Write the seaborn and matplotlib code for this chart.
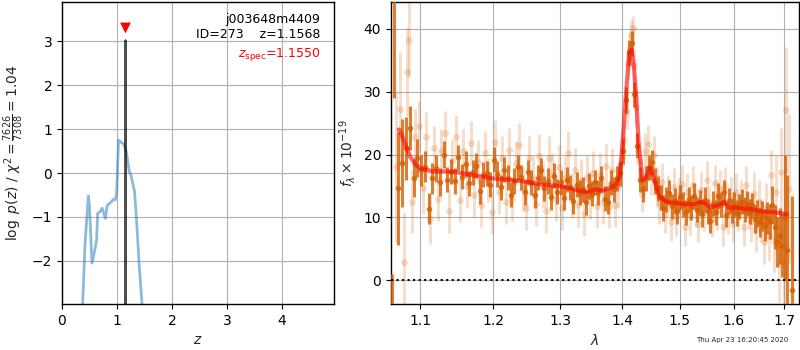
import numpy as np
import pandas as pd
import matplotlib
matplotlib.use("Agg")
import matplotlib.pyplot as plt
from matplotlib.ticker import FixedLocator, FixedFormatter, NullLocator
import seaborn as sns

# ---------------- data ----------------
# redshift probability (log p(z)) curve
z_grid = [0.30, 0.376, 0.42, 0.479, 0.50, 0.545, 0.59, 0.63, 0.648, 0.69, 0.733, 0.76, 0.788,
          0.824, 0.86, 0.903, 0.933, 0.970, 0.994, 1.03, 1.06, 1.085, 1.12, 1.164, 1.20,
          1.224, 1.25, 1.29, 1.32, 1.357, 1.406, 1.455, 1.50]
log_pz = [-5.0, -2.96, -1.6, -0.52, -0.75, -2.05, -1.80, -1.52, -0.92, -0.88, -0.80, -0.92, -1.03,
          -0.73, -0.70, -0.65, -0.60, -0.61, -0.45, 0.75, 0.72, 0.69, 0.66, 0.52, 0.25,
          0.03, -0.03, -0.25, -0.42, -1.07, -2.13, -2.96, -5.0]
# fine p(z) spike around best redshift
z_fine = [1.1555, 1.1568, 1.1581]
log_pz_fine = [-8.0, 3.02, -8.0]
z_best = 1.1568
z_spec = 1.1550
z_spec_mark = 3.30

# spectrum: binned (dark) points
lam_dark = [1.063, 1.066, 1.071, 1.076, 1.081, 1.086, 1.091, 1.096, 1.101, 1.106, 1.111, 1.116,
            1.121, 1.126, 1.131, 1.136, 1.141, 1.146, 1.151, 1.156, 1.161, 1.166, 1.171, 1.176,
            1.181, 1.186, 1.191, 1.196, 1.201, 1.206, 1.211, 1.216, 1.221, 1.226, 1.231, 1.236,
            1.241, 1.246, 1.251, 1.256, 1.261, 1.266, 1.271, 1.276, 1.281, 1.286, 1.291, 1.296,
            1.301, 1.306, 1.311, 1.316, 1.321, 1.326, 1.331, 1.336, 1.341, 1.346, 1.351, 1.356,
            1.361, 1.366, 1.371, 1.376, 1.381, 1.386, 1.391, 1.396, 1.401, 1.406, 1.411, 1.416,
            1.421, 1.426, 1.431, 1.436, 1.441, 1.446, 1.451, 1.456, 1.461, 1.466, 1.471, 1.476,
            1.481, 1.486, 1.491, 1.496, 1.501, 1.506, 1.511, 1.516, 1.521, 1.526, 1.531, 1.536,
            1.541, 1.546, 1.551, 1.556, 1.561, 1.566, 1.571, 1.576, 1.581, 1.586, 1.591, 1.596,
            1.601, 1.606, 1.611, 1.616, 1.621, 1.626, 1.631, 1.636, 1.641, 1.646, 1.651, 1.656,
            1.661, 1.666, 1.671, 1.676, 1.681, 1.686, 1.691, 1.696, 1.701, 1.706, 1.715]
flux_dark = [-6.0, 45.0, 14.6, 18.7, 21.0, 24.2, 16.3, 19.5, 17.5, 18.1, 11.4, 16.2,
             17.8, 15.6, 20.0, 16.0, 17.3, 15.8, 19.6, 16.5, 18.5, 15.4, 17.2, 18.2,
             14.2, 16.8, 17.0, 15.2, 19.2, 16.9, 14.8, 17.6, 16.3, 13.6, 15.8, 18.0,
             16.4, 14.0, 17.2, 15.5, 13.5, 16.3, 17.5, 14.6, 15.8, 13.2, 16.6, 14.1,
             15.6, 13.1, 16.0, 14.8, 12.6, 15.2, 13.9, 14.5, 12.4, 15.0, 13.8, 15.6,
             14.0, 16.2, 13.0, 12.5, 15.5, 14.5, 16.2, 17.0, 20.5, 28.7, 36.3, 37.7,
             29.6, 21.4, 16.0, 14.5, 16.2, 18.0, 18.8, 15.8, 14.6, 13.2, 11.5, 12.8,
             13.9, 11.8, 12.6, 11.0, 13.2, 12.0, 10.8, 12.9, 11.6, 13.4, 11.2, 12.4,
             10.5, 12.8, 11.0, 9.5, 12.2, 10.8, 13.4, 12.0, 14.0, 10.4, 12.6, 11.1,
             12.0, 10.7, 11.8, 12.5, 11.2, 12.2, 10.9, 11.9, 9.7, 10.6, 9.2, 10.2,
             8.8, 9.9, 9.4, 12.0, 8.4, 6.1, 7.0, 5.5, 10.0, 4.8, -1.6]
err_dark = [7.0, 16.0, 9.0, 7.0, 5.0, 3.5, 3.0, 3.0, 2.5, 2.5, 2.5, 2.5,
            2.2, 2.2, 2.2, 2.0, 2.0, 2.0, 2.0, 2.0, 2.0, 2.0, 2.0, 2.0,
            2.0, 2.0, 2.0, 2.0, 2.0, 2.0, 2.0, 2.0, 2.0, 2.0, 2.0, 2.0,
            2.0, 2.0, 2.0, 2.0, 2.0, 2.0, 2.0, 2.0, 2.0, 2.0, 2.0, 2.0,
            2.0, 2.0, 2.0, 2.0, 2.0, 2.0, 2.0, 2.0, 2.0, 2.0, 2.0, 2.0,
            2.0, 2.0, 2.0, 2.0, 2.0, 2.0, 2.0, 2.0, 2.0, 2.0, 2.0, 2.0,
            2.0, 2.0, 2.0, 2.0, 2.0, 2.0, 2.0, 2.0, 2.0, 2.0, 2.0, 2.0,
            2.0, 2.0, 2.0, 2.0, 2.0, 2.0, 2.0, 2.0, 2.0, 2.0, 2.0, 2.0,
            2.0, 2.0, 2.0, 2.0, 2.0, 2.0, 2.0, 2.0, 2.0, 2.0, 2.0, 2.0,
            2.0, 2.0, 2.0, 2.0, 2.0, 2.0, 2.0, 2.0, 2.2, 2.2, 2.4, 2.4,
            2.6, 2.6, 2.8, 3.0, 3.5, 4.0, 4.5, 5.0, 10.0, 12.0, 15.0]

# spectrum: unbinned (light) points
lam_light = [1.068, 1.073, 1.078, 1.082, 1.085, 1.089, 1.093, 1.098, 1.103, 1.108, 1.113, 1.118,
             1.123, 1.128, 1.133, 1.138, 1.143, 1.148, 1.153, 1.158, 1.163, 1.168, 1.173, 1.178,
             1.183, 1.188, 1.193, 1.198, 1.203, 1.208, 1.213, 1.218, 1.223, 1.228, 1.233, 1.238,
             1.243, 1.248, 1.253, 1.258, 1.263, 1.268, 1.273, 1.278, 1.283, 1.288, 1.293, 1.298,
             1.303, 1.308, 1.313, 1.318, 1.323, 1.328, 1.333, 1.338, 1.343, 1.348, 1.353, 1.358,
             1.363, 1.368, 1.373, 1.378, 1.383, 1.388, 1.393, 1.398, 1.403, 1.408, 1.410, 1.413,
             1.415, 1.418, 1.421, 1.424, 1.429, 1.434, 1.439, 1.444, 1.449, 1.454, 1.459, 1.464,
             1.469, 1.474, 1.479, 1.484, 1.489, 1.494, 1.499, 1.504, 1.509, 1.514, 1.519, 1.524,
             1.529, 1.534, 1.539, 1.544, 1.549, 1.554, 1.559, 1.564, 1.569, 1.574, 1.579, 1.584,
             1.589, 1.594, 1.599, 1.604, 1.609, 1.614, 1.619, 1.624, 1.629, 1.634, 1.639, 1.644,
             1.649, 1.654, 1.659, 1.664, 1.669, 1.674, 1.679, 1.684, 1.689, 1.694, 1.699, 1.704,
             1.709]
flux_light = [18.0, 27.3, 2.9, 33.2, 38.3, 12.5, 22.8, 24.5, 14.6, 22.8, 9.7, 21.0,
              13.0, 20.5, 23.5, 11.0, 19.0, 22.8, 12.8, 20.6, 15.0, 21.8, 13.5, 18.8,
              12.0, 20.2, 16.0, 10.8, 22.0, 14.0, 19.5, 12.5, 20.8, 13.0, 18.6, 21.5,
              14.5, 11.5, 19.5, 16.2, 12.2, 19.8, 15.0, 11.0, 19.5, 16.8, 13.0, 18.0,
              11.5, 16.3, 20.2, 13.5, 17.5, 12.0, 15.8, 10.5, 16.5, 13.2, 17.0, 11.8,
              16.8, 12.5, 18.2, 11.8, 17.5, 12.0, 15.0, 18.5, 22.3, 27.0, 34.5, 37.0,
              39.0, 40.1, 34.3, 27.5, 19.0, 13.8, 20.5, 21.7, 16.5, 20.0, 15.0, 12.0,
              15.6, 10.5, 13.8, 9.2, 14.8, 10.0, 13.5, 15.3, 8.5, 14.0, 10.2, 15.2,
              11.5, 9.0, 14.3, 10.8, 16.0, 12.0, 9.8, 15.4, 11.0, 14.5, 8.5, 15.0,
              10.3, 13.5, 9.0, 14.0, 10.8, 13.0, 8.5, 15.2, 11.0, 9.5, 13.8, 8.0,
              12.5, 9.5, 6.0, 11.5, 7.0, 16.8, 6.3, 14.0, 2.5, 17.3, 3.0, 27.1,
              14.5]
err_light = [12.0, 9.0, 8.0, 7.0, 6.0, 5.0, 4.5, 4.0, 4.0, 4.0, 4.0, 3.5,
             3.5, 3.5, 3.5, 3.5, 3.5, 3.5, 3.5, 3.5, 3.5, 3.5, 3.5, 3.5,
             3.5, 3.5, 3.5, 3.5, 3.5, 3.5, 3.5, 3.5, 3.5, 3.5, 3.5, 3.5,
             3.5, 3.5, 3.5, 3.5, 3.5, 3.5, 3.5, 3.5, 3.5, 3.5, 3.5, 3.5,
             3.5, 3.5, 3.5, 3.5, 3.5, 3.5, 3.5, 3.5, 3.5, 3.5, 3.5, 3.5,
             3.5, 3.5, 3.5, 3.5, 3.5, 3.5, 3.5, 3.5, 3.0, 3.0, 2.5, 2.5,
             2.5, 2.0, 2.5, 3.0, 3.0, 3.0, 3.0, 3.0, 3.0, 3.0, 3.0, 3.0,
             3.0, 3.0, 3.0, 3.0, 3.0, 3.0, 3.0, 3.0, 3.0, 3.0, 3.0, 3.0,
             3.0, 3.0, 3.0, 3.0, 3.0, 3.0, 3.0, 3.0, 3.0, 3.0, 3.0, 3.0,
             3.0, 3.0, 3.0, 3.0, 3.0, 3.0, 3.0, 3.0, 3.0, 3.5, 3.5, 3.5,
             3.5, 3.5, 3.5, 4.0, 4.0, 4.0, 5.0, 6.0, 6.0, 7.0, 8.0, 10.0,
             12.0]

# best-fit model
lam_model = [1.072, 1.0736, 1.080, 1.0865, 1.093, 1.100, 1.117, 1.144, 1.172, 1.200, 1.249, 1.274,
             1.300, 1.326, 1.342, 1.358, 1.367, 1.385, 1.391, 1.396, 1.400, 1.406, 1.412, 1.416,
             1.420, 1.424, 1.428, 1.435, 1.441, 1.448, 1.455, 1.464, 1.475, 1.500, 1.525, 1.541,
             1.556, 1.570, 1.582, 1.590, 1.630, 1.657, 1.680, 1.705]
flux_model = [24.0, 23.7, 21.8, 19.7, 18.5, 17.8, 17.3, 17.3, 16.7, 16.2, 15.7, 15.2,
              15.0, 14.35, 14.0, 14.5, 14.2, 14.9, 15.4, 16.5, 20.7, 28.7, 36.2, 36.7,
              34.0, 29.2, 21.8, 15.9, 16.5, 17.9, 15.9, 13.3, 12.5, 12.2, 12.1, 12.5,
              11.6, 11.9, 12.5, 11.6, 11.4, 10.9, 10.8, 10.5]

z_ticks = [0, 1, 2, 3, 4]
pz_yticks = [-2, -1, 0, 1, 2, 3]
lam_ticks = [1.1, 1.2, 1.3, 1.4, 1.5, 1.6, 1.7]
flux_yticks = [0, 10, 20, 30, 40]

# ---------------- style ----------------
sns.set_theme(style="ticks")
plt.rcParams["font.family"] = ["DejaVu Sans"]
plt.rcParams["mathtext.fontset"] = "dejavusans"
plt.rcParams["axes.edgecolor"] = "black"
plt.rcParams["axes.linewidth"] = 1.0
plt.rcParams["xtick.color"] = "black"
plt.rcParams["ytick.color"] = "black"
plt.rcParams["xtick.labelsize"] = 10
plt.rcParams["ytick.labelsize"] = 10
plt.rcParams["axes.labelsize"] = 10

G141 = (0.8352941176470589, 0.3686274509803922, 0.0)

fig = plt.figure(figsize=(8.0, 3.5), dpi=100)
ax1 = fig.add_axes([0.0775, 0.1314, 0.34, 0.8629])
ax2 = fig.add_axes([0.48875, 0.1314, 0.51, 0.8629])

# ---------------- left: p(z) ----------------
df_pz = pd.DataFrame({"z": z_grid, "logp": log_pz})
sns.lineplot(data=df_pz, x="z", y="logp", ax=ax1, color="#1f77b4", alpha=0.5, lw=2, sort=False)
df_fine = pd.DataFrame({"z": z_fine, "logp": log_pz_fine})
sns.lineplot(data=df_fine, x="z", y="logp", ax=ax1, color="black", alpha=0.7, lw=1.5, sort=False)
sns.scatterplot(x=[z_spec], y=[z_spec_mark], ax=ax1, marker="v", color="red", s=60,
                edgecolor="none", zorder=5)
ax1.set_xlim(0, 4.95)
ax1.set_ylim(-2.98, 3.89)
ax1.set_xticks(z_ticks)
ax1.set_yticks(pz_yticks)
ax1.set_xlabel(r"$z$")
ax1.set_ylabel(r"$\log\ p(z)$ / $\chi^2=\frac{7626}{7308}=1.04$")
ax1.grid(True, color="#b0b0b0", lw=0.8)
ax1.text(0.95, 0.965, "j003648m4409\nID=273    z=1.1568", ha="right", va="top",
         transform=ax1.transAxes, fontsize=9, color="black")
ax1.text(0.95, 0.855, r"$z_\mathrm{spec}$=%.4f" % z_spec, ha="right", va="top",
         transform=ax1.transAxes, fontsize=9, color="red")

# ---------------- right: spectrum ----------------
ax2.errorbar(lam_light, flux_light, yerr=err_light, fmt="o", color=G141, alpha=0.2,
             ms=5, elinewidth=2.2, capsize=0, markeredgecolor="none", zorder=2)
ax2.errorbar(lam_dark, flux_dark, yerr=err_dark, fmt="o", color=G141, alpha=0.8,
             ms=4, elinewidth=2.2, capsize=0, markeredgecolor="none", zorder=3)
df_model = pd.DataFrame({"lam": lam_model, "flux": flux_model})
sns.lineplot(data=df_model, x="lam", y="flux", ax=ax2, color="red", alpha=0.6, lw=3,
             sort=False, zorder=4)
ax2.axhline(0, color="black", ls=":", lw=1.5, zorder=5)
ax2.set_xscale("log")
ax2.set_xlim(1.062, 1.730)
ax2.set_ylim(-3.8, 44.3)
ax2.xaxis.set_major_locator(FixedLocator(lam_ticks))
ax2.xaxis.set_major_formatter(FixedFormatter(["%.1f" % t for t in lam_ticks]))
ax2.xaxis.set_minor_locator(NullLocator())
ax2.set_yticks(flux_yticks)
ax2.set_xlabel(r"$\lambda$")
ax2.set_ylabel(r"$f_\lambda\times10^{-19}$")
ax2.grid(True, color="#b0b0b0", lw=0.8)

for ax in (ax1, ax2):
    for s in ax.spines.values():
        s.set_visible(True)
        s.set_color("black")
    ax.tick_params(direction="out", length=3.5, width=0.8)

fig.text(0.985, 0.02, "Thu Apr 23 16:20:45 2020", ha="right", va="bottom", fontsize=5)

fig.savefig("out.png", dpi=100)
